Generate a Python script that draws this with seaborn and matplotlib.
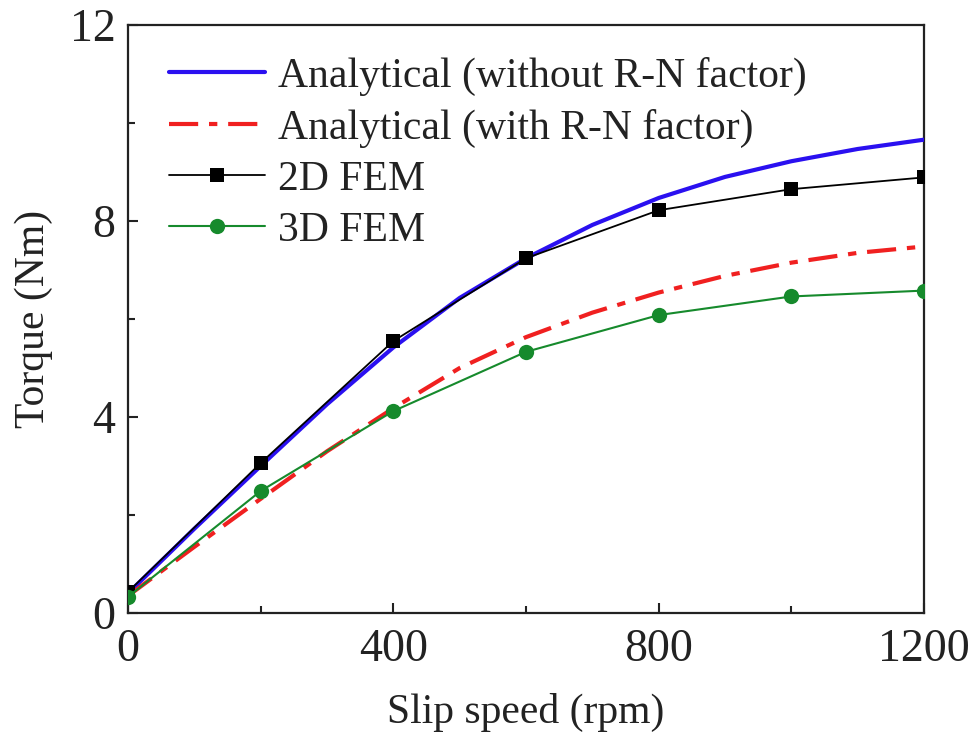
import matplotlib
matplotlib.use("Agg")
import matplotlib.pyplot as plt
import seaborn as sns
import pandas as pd

# Slip speed grid for the analytical curves (rpm)
speed_analytical = [0, 100, 200, 300, 400, 500, 600, 700, 800, 900, 1000, 1100, 1200]
torque_without_rn = [0.40, 1.72, 3.00, 4.26, 5.42, 6.43, 7.24, 7.92, 8.47, 8.90, 9.22, 9.47, 9.66]
torque_with_rn = [0.35, 1.35, 2.33, 3.30, 4.18, 5.00, 5.63, 6.13, 6.54, 6.88, 7.15, 7.35, 7.48]

# Finite element results (rpm, Nm)
speed_fem = [0, 200, 400, 600, 800, 1000, 1200]
torque_2d_fem = [0.43, 3.06, 5.55, 7.24, 8.22, 8.65, 8.89]
torque_3d_fem = [0.33, 2.49, 4.12, 5.33, 6.08, 6.46, 6.58]

x_ticks = [0, 400, 800, 1200]
y_ticks = [0, 4, 8, 12]

sns.set_style("ticks")
plt.rcParams["font.family"] = ["Liberation Serif", "DejaVu Serif"]
plt.rcParams["text.color"] = "#222222"
plt.rcParams["axes.labelcolor"] = "#222222"
plt.rcParams["xtick.color"] = "#222222"
plt.rcParams["ytick.color"] = "#222222"

fig = plt.figure(figsize=(9.78, 7.47), dpi=100)
ax = fig.add_axes([0.1309, 0.1794, 0.8139, 0.7871])

df_a = pd.DataFrame({"speed": speed_analytical,
                     "without": torque_without_rn,
                     "with": torque_with_rn})
df_f = pd.DataFrame({"speed": speed_fem,
                     "fem2d": torque_2d_fem,
                     "fem3d": torque_3d_fem})

sns.lineplot(data=df_a, x="speed", y="without", ax=ax, color="#2a10f0",
             linewidth=3.0, label="Analytical (without R-N factor)", zorder=3)
sns.lineplot(data=df_a, x="speed", y="with", ax=ax, color="#f02020",
             linewidth=3.0, label="Analytical (with R-N factor)", zorder=3)
ax.lines[-1].set_dashes([7, 2.6, 2, 2.6])
sns.lineplot(data=df_f, x="speed", y="fem2d", ax=ax, color="black",
             linewidth=1.3, marker="s", markersize=10, markeredgewidth=0,
             label="2D FEM", zorder=4)
sns.lineplot(data=df_f, x="speed", y="fem3d", ax=ax, color="#168a2c",
             linewidth=1.5, marker="o", markersize=11, markeredgewidth=0,
             label="3D FEM", zorder=4)

ax.set_xlim(0, 1200)
ax.set_ylim(0, 12)
ax.set_xticks(x_ticks)
ax.set_yticks(y_ticks)
ax.set_xticks([200, 600, 1000], minor=True)
ax.set_yticks([2, 6, 10], minor=True)
ax.tick_params(which="major", direction="in", length=7, width=1.5,
               labelsize=33, top=False, right=False)
ax.tick_params(axis="x", which="major", pad=11)
ax.tick_params(axis="y", which="major", pad=9)
ax.tick_params(which="minor", direction="in", length=5, width=1.5,
               top=False, right=False)
for side in ["top", "right", "bottom", "left"]:
    ax.spines[side].set_visible(True)
    ax.spines[side].set_linewidth(1.6)
    ax.spines[side].set_color("#222222")

ax.set_xlabel("Slip speed (rpm)", fontsize=30, labelpad=16)
ax.set_ylabel("Torque (Nm)", fontsize=30, labelpad=12)

leg = ax.legend(loc="upper left", bbox_to_anchor=(0.031, 0.974), fontsize=30,
                frameon=False, handlelength=2.3, handletextpad=0.3,
                labelspacing=0.3, borderaxespad=0.0)

fig.savefig("out.png", dpi=100)
